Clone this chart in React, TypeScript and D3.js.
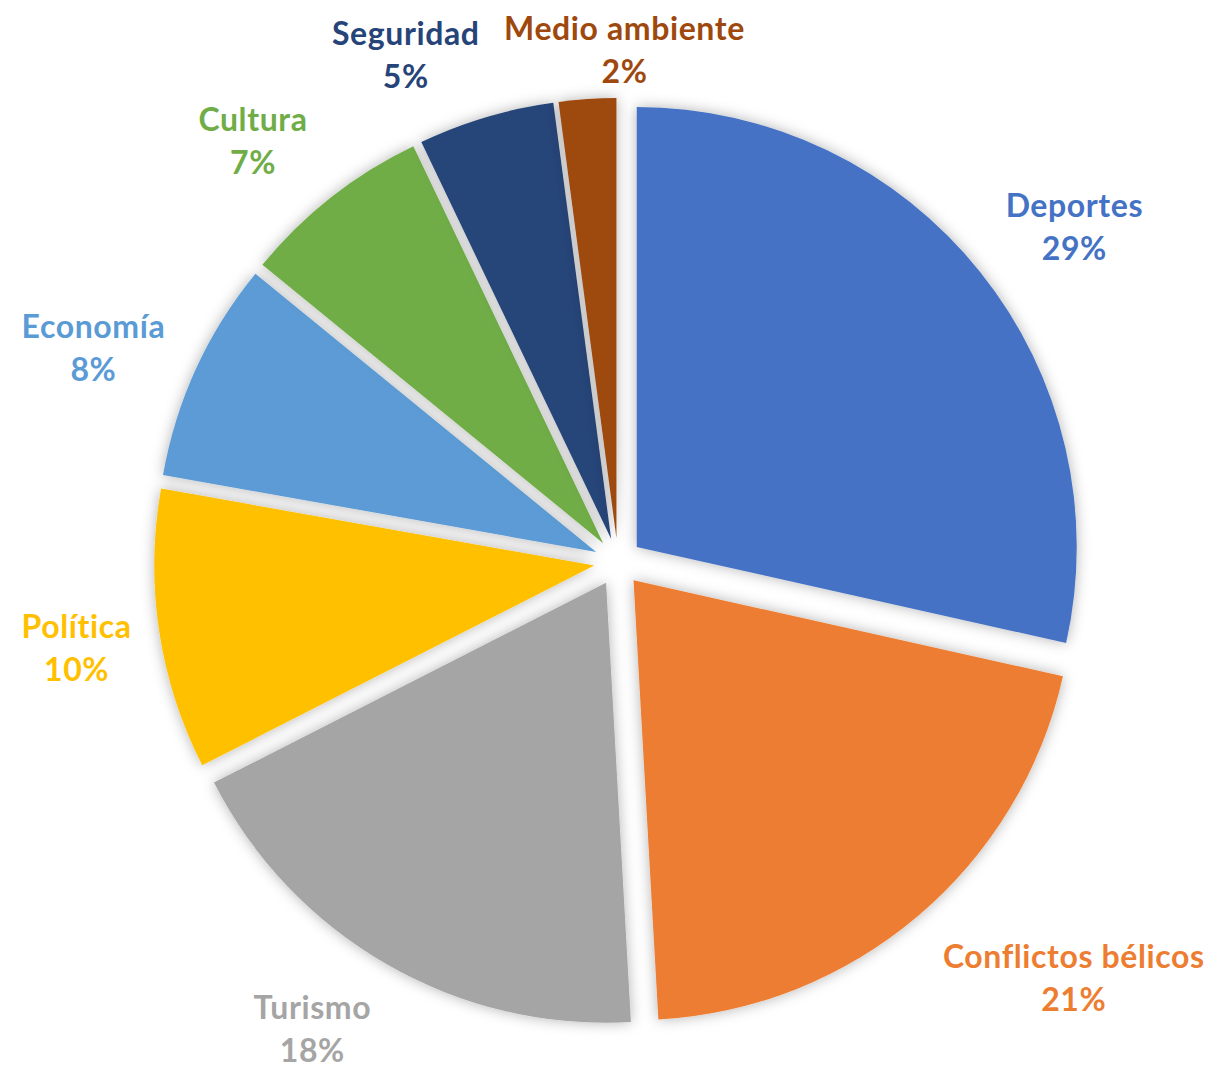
import React from 'react';
import * as d3 from 'd3';

// values, labels show rounded percent
const categories = ['Deportes', 'Conflictos bélicos', 'Turismo', 'Política', 'Economía', 'Cultura', 'Seguridad', 'Medio ambiente'];
const values = [28.5, 20.6, 18.4, 10.3, 8.1, 7.0, 5.0, 2.1];
const colors = ['#4472C4', '#ED7D31', '#A5A5A5', '#FFC000', '#5B9BD5', '#70AD47', '#264478', '#9E480E'];

// label placement: angle nudge (deg) from slice middle and distance from pie centre
const labelNudge = [2.3, -7.4, 3.4, -0.45, -2.35, -2.7, -6.1, 4.5];
const labelDist = [567, 616, 557, 548, 567, 558, 551, 514];

const width = 1210;
const height = 1068;
const cx = 618;
const cy = 562;
const radius = 440;
const explode = 24;

const App = () => {
  const total = d3.sum(values);
  const pie = d3.pie<number>().sort(null).value(d => d);
  const arcs = pie(values);
  const arc = d3.arc<d3.PieArcDatum<number>>().innerRadius(0).outerRadius(radius);

  return (
    <svg width={width} height={height} style={{ position: 'absolute', left: 0, top: 0, background: '#fff' }}>
      <defs>
        <filter id="shadow" x="-20%" y="-20%" width="140%" height="140%">
          <feDropShadow dx="0" dy="0" stdDeviation="7" floodColor="#000" floodOpacity="0.3" />
        </filter>
      </defs>
      <g transform={`translate(${cx},${cy})`}>
        {arcs.map((a, i) => {
          const mid = (a.startAngle + a.endAngle) / 2;
          const ox = Math.sin(mid) * explode;
          const oy = -Math.cos(mid) * explode;
          return (
            <path
              key={categories[i]}
              d={arc(a) as string}
              transform={`translate(${ox},${oy})`}
              fill={colors[i]}
              filter="url(#shadow)"
            />
          );
        })}
        {arcs.map((a, i) => {
          const mid = (a.startAngle + a.endAngle) / 2 + (labelNudge[i] * Math.PI) / 180;
          const x = Math.sin(mid) * labelDist[i];
          const y = -Math.cos(mid) * labelDist[i];
          const pct = d3.format('.0%')(values[i] / total);
          return (
            <text
              key={'l' + categories[i]}
              x={x}
              y={y}
              textAnchor="middle"
              dominantBaseline="central"
              fill={colors[i]}
              style={{ fontFamily: 'Lato, sans-serif', fontWeight: 700, fontSize: 32, letterSpacing: 0.6 }}
            >
              <tspan x={x} dy={-21.5}>{categories[i]}</tspan>
              <tspan x={x} dy={43}>{pct}</tspan>
            </text>
          );
        })}
      </g>
    </svg>
  );
};

export default App;
